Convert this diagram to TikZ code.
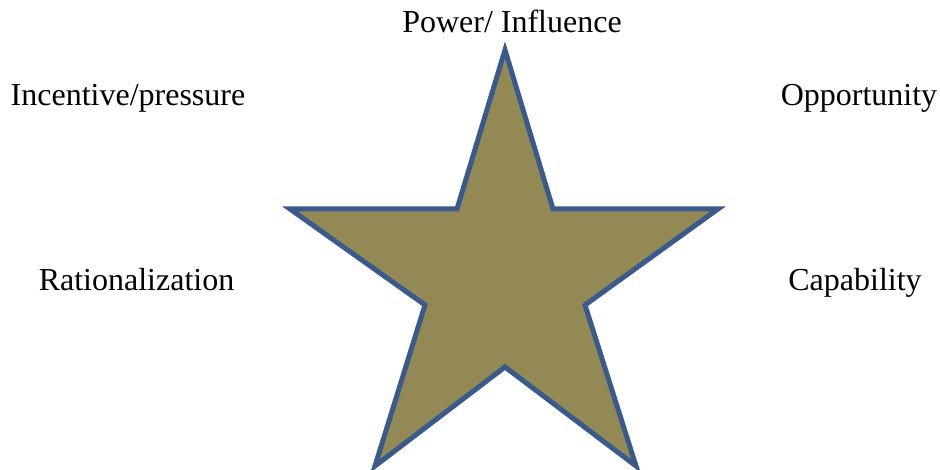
\documentclass[tikz,border=0pt]{standalone}
\usepackage{fontspec}
\setmainfont{Liberation Serif}
\definecolor{starfill}{RGB}{146,137,85}
\definecolor{starline}{RGB}{59,90,140}
\tikzset{lbl/.style={font=\fontsize{32}{38}\selectfont, text=black, inner sep=0pt, anchor=base}}
\begin{document}
\begin{tikzpicture}[x=1pt,y=1pt]
\useasboundingbox (0,0) rectangle (940,470);
\draw[starline, fill=starfill, line width=5pt, line join=miter]
  (505,420) -- (553,261) -- (718,261) -- (585,165) -- (636,4)
  -- (505,103) -- (375,4) -- (425,165) -- (290,261) -- (457,261) -- cycle;
\node[lbl] (power) at (512,437) {Power/ Influence};
\node[lbl] (inc) at (128,364) {Incentive/pressure};
\node[lbl] (opp) at (859,364) {Opportunity};
\node[lbl] (rat) at (136.5,179) {Rationalization};
\node[lbl] (cap) at (855,179) {Capability};
\end{tikzpicture}
\end{document}
